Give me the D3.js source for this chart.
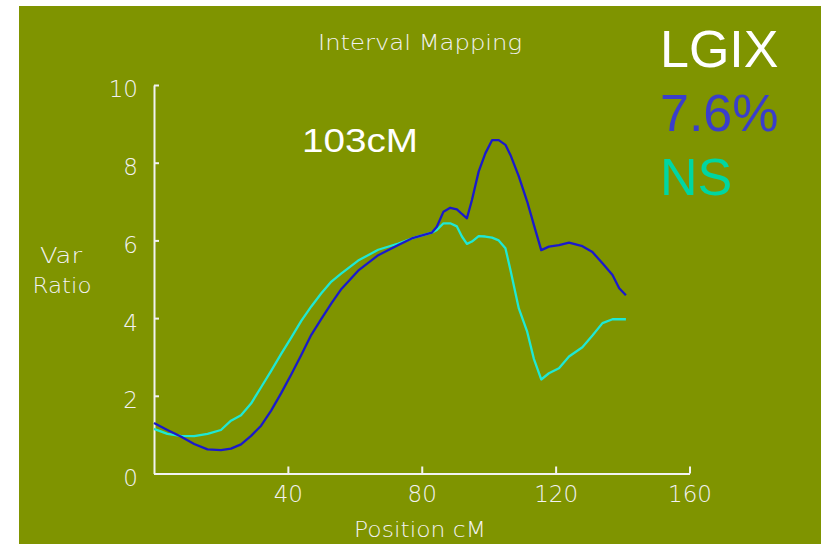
<!DOCTYPE html>
<html>
<head>
<meta charset="utf-8">
<script src="https://cdn.jsdelivr.net/npm/d3@7"></script>
<style>
	html, body { margin: 0; padding: 0; background: #ffffff; }
	svg { display: block; }
</style>
</head>
<body>
<div id="chart"></div>
<script>

// positions along the chromosome (cM)
const positions = [0, 4, 8, 12, 16, 20, 23, 26, 29, 32, 35, 38, 41, 44, 47, 50, 53, 56, 61, 67, 73, 77, 83,
	84.5, 86.5, 88.5, 90.5, 92, 93.5, 95, 97, 99, 101, 103, 105, 106.5, 109, 111.5, 113.5, 115.7,
	118, 121, 124, 128, 131, 134, 137, 139, 141];

// variance ratio, LGIX trace (blue)
const lgixValues = [1.30, 1.12, 0.95, 0.76, 0.62, 0.60, 0.64, 0.75, 0.97, 1.23, 1.62, 2.07, 2.55, 3.05, 3.57, 3.98, 4.38, 4.75, 5.22, 5.62, 5.88, 6.05, 6.20,
	6.35, 6.74, 6.84, 6.80, 6.68, 6.57, 7.04, 7.77, 8.24, 8.58, 8.58, 8.46, 8.20, 7.65, 7.00, 6.40, 5.75,
	5.84, 5.88, 5.94, 5.85, 5.70, 5.41, 5.11, 4.77, 4.59];

// variance ratio, NS trace (cyan)
const nsValues = [1.15, 1.02, 0.97, 0.96, 1.02, 1.12, 1.36, 1.50, 1.80, 2.22, 2.64, 3.08, 3.50, 3.93, 4.30, 4.64, 4.94, 5.15, 5.48, 5.76, 5.92, 6.05, 6.20,
	6.27, 6.44, 6.44, 6.36, 6.10, 5.91, 5.97, 6.11, 6.10, 6.07, 6.00, 5.80, 5.24, 4.25, 3.65, 2.95, 2.42,
	2.58, 2.71, 3.01, 3.25, 3.55, 3.87, 3.97, 3.97, 3.97];

const xTicks = [40, 80, 120, 160];
const yTicks = [0, 2, 4, 6, 8, 10];
const legendLines = ['LGIX', '7.6%', 'NS'];

const theme = {
	page: '#ffffff',
	panel: '#7f9400',
	axis: '#f2f2f2',
	lgix: '#1a1acc',
	ns: '#1fe8d4',
	legend: ['#ffffff', '#3a3ecb', '#00d6a2'],
};

const width = 829;
const height = 544;

const svg = d3.select('#chart')
	.append('svg')
	.attr('width', width)
	.attr('height', height);

svg.append('rect')
	.attr('width', width)
	.attr('height', height)
	.attr('fill', theme.page);

svg.append('rect')
	.attr('x', 19)
	.attr('y', 6)
	.attr('width', 802)
	.attr('height', height - 6)
	.attr('fill', theme.panel);

const x = d3.scaleLinear().domain([0, 160]).range([154, 689.5]);
const y = d3.scaleLinear().domain([0, 10]).range([473.5, 85]);

const smallFont = '"DejaVu Sans", sans-serif';
const smallWeight = 200;

// axes, ticks pointing inwards
const xAxis = d3.axisBottom(x).tickValues(xTicks).tickSizeInner(-7).tickSizeOuter(0).tickPadding(22);
const yAxis = d3.axisLeft(y).tickValues(yTicks).tickSizeInner(-5).tickSizeOuter(0).tickPadding(16);

const gx = svg.append('g')
	.attr('transform', `translate(0,${y(0)})`)
	.call(xAxis);

const gy = svg.append('g')
	.attr('transform', `translate(${x(0)},0)`)
	.call(yAxis);

[gx, gy].forEach(g => {
	g.select('.domain').attr('stroke', theme.axis).attr('stroke-width', 2);
	g.selectAll('.tick line').attr('stroke', theme.axis).attr('stroke-width', 2);
	g.selectAll('.tick text')
		.attr('fill', theme.axis)
		.attr('font-family', smallFont)
		.attr('font-weight', smallWeight)
		.attr('font-size', 23);
});
gy.selectAll('.tick text').attr('dy', '0.52em');
gx.selectAll('.tick text').attr('dy', '0.3em');

// title and axis names
const label = (txt, cx, by, len) => svg.append('text')
	.attr('x', cx)
	.attr('y', by)
	.attr('text-anchor', 'middle')
	.attr('font-family', smallFont)
	.attr('font-weight', smallWeight)
	.attr('font-size', 22)
	.attr('textLength', len)
	.attr('lengthAdjust', 'spacingAndGlyphs')
	.attr('fill', theme.axis)
	.text(txt);

label('Interval Mapping', 420, 50, 204);
label('Position cM', 420, 537, 132);
label('Var', 61, 263, 42);
label('Ratio', 62, 293, 59);

// traces
const line = d3.line()
	.x(d => x(d[0]))
	.y(d => y(d[1]));

const series = [
	{values: nsValues, color: theme.ns},
	{values: lgixValues, color: theme.lgix},
];

series.forEach(s => {
	svg.append('path')
		.datum(positions.map((p, i) => [p, s.values[i]]))
		.attr('fill', 'none')
		.attr('stroke', s.color)
		.attr('stroke-width', 2.3)
		.attr('stroke-linejoin', 'round')
		.attr('d', line);
});

// annotations
const bigFont = '"Liberation Sans", Arial, sans-serif';

svg.append('text')
	.attr('x', 302)
	.attr('y', 152)
	.attr('font-family', bigFont)
	.attr('font-size', 33)
	.attr('textLength', 116)
	.attr('lengthAdjust', 'spacingAndGlyphs')
	.attr('fill', '#ffffff')
	.text('103cM');

svg.selectAll('text.legend')
	.data(legendLines)
	.enter()
	.append('text')
	.attr('class', 'legend')
	.attr('x', 660)
	.attr('y', (d, i) => 67 + i * 64)
	.attr('font-family', bigFont)
	.attr('font-size', 52)
	.attr('fill', (d, i) => theme.legend[i])
	.text(d => d);

</script>
</body>
</html>
